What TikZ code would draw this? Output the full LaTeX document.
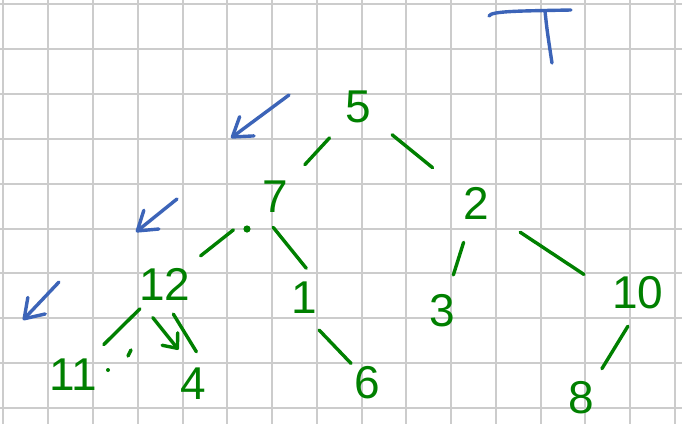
\documentclass[tikz,border=0pt]{standalone}
\usepackage{fontspec}
\setmainfont{Liberation Sans}
\usetikzlibrary{arrows.meta}

\colorlet{treeInk}{green!50!black}
\colorlet{markInk}{cyan!30!blue!85!white}
\colorlet{gridInk}{black!20}

\tikzset{
  key/.style={text=treeInk, inner sep=0pt, font=\fontsize{23}{23}\selectfont},
  link/.style={treeInk, line width=1.7pt, line cap=round},
  pen/.style={markInk, line width=1.7pt, line cap=round, line join=round},
  pointer/.style={pen, -{Straight Barb[length=9pt,width=12pt,round]}}
}

\begin{document}
\begin{tikzpicture}[x=0.5pt, y=-0.5pt]
        \fill[white] (0,0) rectangle (682,424);
        \useasboundingbox (0,0) rectangle (682,424);
        \foreach \i in {0,...,15}
              \draw[gridInk, line width=1pt](3.5+44.75*\i,0)--(3.5+44.75*\i,424);
        \foreach \j in {0,...,9}
              \draw[gridInk, line width=1pt](0,4+44.9*\j)--(682,4+44.9*\j);

        \node[key] (n5)  at (358,107){5};
        \node[key] (n7)  at (275,197){7};
        \node[key] (n2)  at (476,203){2};
        \node[key] (n12) at (165,284){12};
        \node[key] (n1)  at (304,298){1};
        \node[key] (n3)  at (442,311){3};
        \node[key] (n10) at (638,293){10};
        \node[key] (n11) at (73,375){11};
        \node[key] (n4)  at (193,384){4};
        \node[key] (n6)  at (367,383){6};
        \node[key] (n8)  at (581,398){8};

        \draw[link, shorten <=21pt, shorten >=22pt](n5.center)--(n7.center);
        \draw[link, shorten <=22pt, shorten >=28pt](n5.center)--(n2.center);
        \draw[link, shorten <=26.5pt, shorten >=22.7pt](n7.center)--(n12.center);
        \draw[link, shorten <=9.1pt, shorten >=8.7pt](n7.south west)--(n1.north east);
        \draw[link, shorten <=20.6pt, shorten >=18.9pt](n2.center)--(n3.center);
        \draw[link, shorten <=26.5pt, shorten >=16.8pt](n2.center)--(n10.west);
        \draw[link, shorten <=17.7pt, shorten >=21.6pt](n12.center)--(n11.center);
        \draw[link, shorten <=8pt, shorten >=9.4pt](n12.south)--(n4.north east);
        \draw[link, -{Straight Barb[length=6pt,width=10pt,round]},
              shorten <=11pt, shorten >=11.6pt](n12.south west)--(n4.north);
        \draw[link, shorten <=10.9pt, shorten >=2pt](n1.south)--(n6.north west);
        \draw[link, shorten <=9.7pt, shorten >=7.4pt](n10.south)--(n8.north east);

        \fill[treeInk] (247,229) circle[radius=1.8pt];
        \draw[link] (128,356)--(131,350);
        \fill[treeInk] (108,370) circle[radius=1pt];

        \draw[pointer] (289,95)--(231,138);
        \draw[pointer] (177,199)--(136,232);
        \draw[pointer] (59,282)--(23,320);
        \draw[pen] (489,16) .. controls (491,11) and (520,11) .. (571,10);
        \draw[pen] (545,11) .. controls (547,30) .. (552,63);
      \end{tikzpicture}
\end{document}
